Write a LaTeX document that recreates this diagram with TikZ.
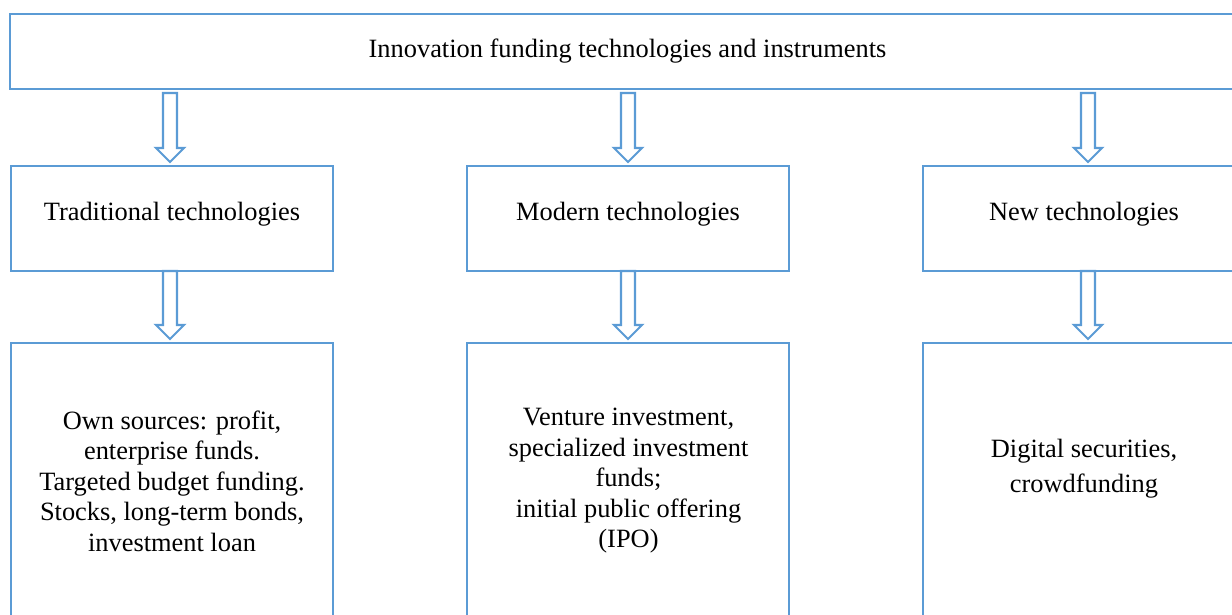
\documentclass[tikz,border=0pt]{standalone}
\usepackage{fontspec}
\setmainfont{Liberation Serif}
\usetikzlibrary{calc}
\definecolor{boxblue}{HTML}{5B9BD5}

% hollow block arrow from the bottom of #1 to the top of #2;
% #3 = gap below the source box, #4 = horizontal offset
\newcommand\hollowdown[4]{%
  \draw[flow] let \p1=(#1.south), \p2=(#2.north) in
    (\x2+#4-7pt,\y1-#3) -- (\x2+#4+7pt,\y1-#3) -- (\x2+#4+7pt,\y2+18pt)
    -- (\x2+#4+14pt,\y2+18pt) -- (\x2+#4,\y2+4pt) -- (\x2+#4-14pt,\y2+18pt)
    -- (\x2+#4-7pt,\y2+18pt) -- cycle;}

\begin{document}
\begin{tikzpicture}[x=1pt,y=-1pt,
  box/.style={draw=boxblue, line width=2.3pt, rectangle, anchor=north west,
    inner sep=0pt, outer sep=0pt, minimum width=322pt, align=center,
    font=\fontsize{26.4}{30.5}\selectfont},
  midbox/.style={box, minimum height=105pt, text height=18.2pt, text depth=13.7pt},
  txt/.style={align=center, inner sep=0pt, font=\fontsize{26.4}{30.5}\selectfont},
  flow/.style={draw=boxblue, line width=2.1pt, line join=miter, fill=white}]
\useasboundingbox (0,0) rectangle (1232,615);
\clip (0,0) rectangle (1232,615);

% top level
\node[box, minimum width=1235pt, minimum height=75pt] (head) at (10,14)
  {Innovation funding technologies and instruments};

% second level
\node[midbox] (trad) at (11,166) {Traditional technologies};
\node[midbox] (mod)  at (467,166) {Modern technologies};
\node[midbox] (new)  at (923,166) {New technologies};

% third level
\node[box, minimum height=280pt] (tradI) at (11,343) {};
\node[box, minimum height=280pt] (modI)  at (467,343) {};
\node[box, minimum height=280pt] (newI)  at (923,343) {};

\node[txt] (tradT) at (172,481) {Own sources: profit,\\enterprise funds.\\Targeted budget funding.\\Stocks, long-term bonds,\\investment loan};
\node[txt] (modT) at (628.5,481) {Venture investment,\\specialized investment\\funds;\\initial public offering\\(IPO)};
\node[txt, font=\fontsize{26.4}{35}\selectfont] (newT) at (1084,469) {Digital securities,\\crowdfunding};

% connectors
\hollowdown{head}{trad}{4pt}{-2pt}
\hollowdown{head}{mod}{4pt}{0pt}
\hollowdown{head}{new}{4pt}{4pt}
\hollowdown{trad}{tradI}{0pt}{-2pt}
\hollowdown{mod}{modI}{0pt}{0pt}
\hollowdown{new}{newI}{0pt}{4pt}
\end{tikzpicture}
\end{document}
